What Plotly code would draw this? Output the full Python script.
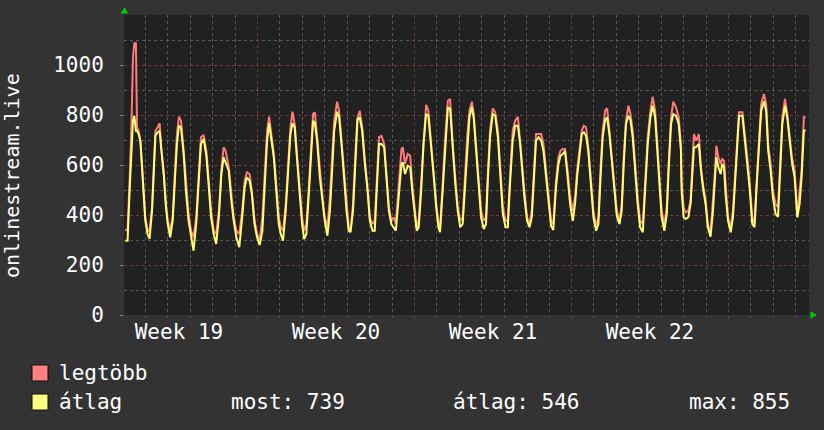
import plotly.graph_objects as go

# time in days from first midnight gridline
days = [-0.89, -0.79, -0.70, -0.62, -0.55, -0.49, -0.42, -0.37, -0.30, -0.22, -0.15, -0.07,
        0.00, 0.10, 0.19, 0.30, 0.37, 0.45, 0.55, 0.64, 0.71, 0.82, 0.92,
        1.00, 1.11, 1.22, 1.31, 1.41, 1.50, 1.59, 1.71, 1.81, 1.93,
        2.04, 2.15, 2.27, 2.38, 2.48, 2.60, 2.72, 2.82, 2.93,
        3.05, 3.16, 3.28, 3.39, 3.49, 3.58, 3.72, 3.82, 3.94,
        4.06, 4.19, 4.32, 4.43, 4.53, 4.65, 4.75, 4.87, 4.98,
        5.10, 5.22, 5.33, 5.43, 5.52, 5.62, 5.73, 5.85, 5.95,
        6.04, 6.14, 6.26, 6.37, 6.47, 6.56, 6.66, 6.77, 6.89, 6.99,
        7.08, 7.18, 7.29, 7.38, 7.48, 7.56, 7.66, 7.78, 7.90,
        8.00, 8.12, 8.23, 8.33, 8.42, 8.55, 8.64, 8.76, 8.86, 8.97,
        9.07, 9.15, 9.26, 9.38, 9.46, 9.56, 9.67, 9.79, 9.91,
        10.01, 10.13, 10.23, 10.33, 10.42, 10.53, 10.65, 10.75, 10.86, 10.97,
        11.08, 11.17, 11.27, 11.34, 11.42, 11.48, 11.58, 11.70, 11.81, 11.90,
        12.00, 12.10, 12.19, 12.30, 12.40, 12.52, 12.62, 12.74, 12.85, 12.97,
        13.07, 13.14, 13.26, 13.37, 13.49, 13.59, 13.71, 13.81, 13.93,
        14.04, 14.15, 14.26, 14.35, 14.45, 14.56, 14.64, 14.75, 14.85, 14.97,
        15.09, 15.19, 15.27, 15.37, 15.49, 15.60, 15.72, 15.82, 15.94,
        16.06, 16.16, 16.26, 16.38, 16.49, 16.61, 16.71, 16.80, 16.90,
        17.02, 17.13, 17.23, 17.32, 17.42, 17.54, 17.65, 17.75, 17.87, 17.99,
        18.09, 18.19, 18.31, 18.42, 18.51, 18.61, 18.71, 18.83, 18.94,
        19.06, 19.16, 19.25, 19.35, 19.46, 19.55, 19.65, 19.75, 19.87, 19.98,
        20.10, 20.20, 20.29, 20.39, 20.50, 20.59, 20.69, 20.79, 20.91,
        21.02, 21.14, 21.24, 21.33, 21.43, 21.54, 21.63, 21.73, 21.83, 21.95,
        22.06, 22.18, 22.29, 22.40, 22.52, 22.62, 22.73, 22.81, 22.92,
        23.02, 23.14, 23.25, 23.33, 23.44, 23.54, 23.66, 23.78, 23.88, 23.91,
        24.00, 24.09, 24.21, 24.31, 24.39, 24.46, 24.56, 24.68, 24.76, 24.86, 24.98,
        25.08, 25.20, 25.31, 25.40, 25.46, 25.55, 25.65, 25.72, 25.80, 25.87, 25.98,
        26.10, 26.20, 26.29, 26.39, 26.47, 26.62, 26.72, 26.84, 26.94,
        27.06, 27.16, 27.25, 27.36, 27.46, 27.58, 27.68, 27.77, 27.88, 27.98,
        28.10, 28.21, 28.29, 28.40, 28.52, 28.62, 28.73, 28.84, 28.95,
        29.07, 29.17, 29.26, 29.36, 29.44]

legtobb = [337, 345, 537, 751, 1031, 1087, 1087, 751, 737, 697, 604, 470,
           390, 337, 337, 431, 604, 737, 751, 767, 671, 577, 444,
           377, 337, 390, 551, 724, 793, 777, 657, 524, 404,
           337, 311, 390, 577, 711, 720, 657, 551, 417,
           337, 324, 417, 577, 671, 657, 591, 484, 391,
           337, 324, 417, 537, 571, 564, 497, 377, 324,
           300, 391, 577, 737, 793, 724, 644, 511, 391,
           351, 337, 444, 604, 751, 813, 764, 631, 497, 391,
           337, 364, 511, 657, 804, 811, 711, 577, 471,
           391, 351, 471, 631, 777, 853, 817, 684, 564, 444,
           351, 337, 444, 671, 791, 817, 751, 617, 511,
           391, 364, 377, 577, 711, 716, 684, 564, 431, 377,
           391, 364, 471, 551, 664, 671, 604, 644, 637, 524,
           431, 351, 377, 537, 711, 841, 817, 684, 577, 444,
           364, 351, 524, 711, 857, 864, 671, 564, 431,
           377, 391, 564, 711, 817, 853, 804, 671, 551, 417,
           377, 391, 564, 737, 827, 811, 737, 577, 431,
           377, 377, 551, 737, 777, 793, 697, 591, 497,
           391, 364, 417, 564, 724, 724, 724, 684, 577, 457,
           377, 364, 537, 631, 657, 664, 664, 577, 471,
           417, 471, 577, 657, 737, 757, 751, 671, 524, 417,
           351, 391, 577, 737, 817, 827, 737, 631, 511,
           417, 377, 444, 631, 777, 837, 804, 737, 604, 471,
           377, 364, 537, 711, 817, 873, 817, 697, 551,
           417, 364, 431, 604, 791, 853, 831, 791, 684, 537,
           431, 411, 417, 457, 577, 724, 697, 724, 604, 524, 457,
           364, 324, 444, 577, 677, 631, 604, 624, 617, 511, 391,
           351, 417, 551, 697, 811, 811, 737, 631, 537,
           391, 364, 537, 697, 844, 884, 844, 684, 604, 497,
           444, 431, 577, 791, 864, 804, 711, 624, 577,
           391, 497, 577, 791, 791]

atlag = [297, 297, 497, 657, 777, 797, 737, 737, 724, 697, 590, 457,
         377, 324, 304, 417, 577, 717, 731, 737, 664, 564, 431,
         364, 311, 377, 524, 684, 757, 751, 644, 497, 377,
         324, 257, 364, 551, 684, 704, 637, 524, 391,
         324, 284, 391, 564, 631, 611, 577, 471, 377,
         311, 271, 391, 511, 551, 537, 484, 364, 311,
         280, 337, 511, 697, 767, 697, 631, 484, 364,
         324, 297, 417, 577, 724, 767, 751, 617, 471, 364,
         304, 324, 484, 631, 777, 767, 697, 551, 444,
         377, 317, 417, 577, 737, 813, 791, 671, 537, 417,
         337, 331, 417, 631, 780, 791, 737, 604, 497,
         377, 337, 337, 551, 684, 684, 671, 551, 417, 364,
         351, 337, 444, 524, 604, 611, 564, 597, 591, 497,
         417, 337, 351, 497, 684, 804, 797, 657, 564, 431,
         351, 331, 497, 684, 831, 824, 657, 537, 417,
         351, 364, 537, 684, 791, 831, 791, 657, 524, 391,
         344, 364, 537, 711, 804, 797, 711, 551, 404,
         351, 351, 524, 697, 757, 757, 684, 577, 471,
         377, 351, 391, 537, 697, 711, 697, 657, 551, 431,
         357, 340, 511, 604, 637, 644, 657, 551, 444,
         377, 444, 551, 631, 724, 731, 717, 657, 497, 391,
         337, 364, 537, 711, 780, 790, 724, 617, 484,
         397, 364, 417, 604, 764, 797, 780, 711, 577, 444,
         351, 331, 511, 684, 791, 837, 791, 684, 524,
         391, 337, 404, 577, 764, 804, 797, 764, 657, 497,
         391, 384, 391, 444, 551, 671, 671, 684, 591, 511, 444,
         351, 313, 417, 551, 631, 591, 564, 604, 591, 484, 377,
         331, 391, 524, 684, 797, 797, 711, 604, 511,
         364, 351, 511, 671, 817, 855, 817, 657, 577, 471,
         404, 393, 551, 764, 837, 791, 697, 604, 551,
         391, 444, 551, 737, 739]

week_labels = ["Week 19", "Week 20", "Week 21", "Week 22"]
week_centers = [1.5, 8.5, 15.5, 22.5]
week_starts = [5, 12, 19, 26]
y_ticks = [0, 200, 400, 600, 800, 1000]
y_minor = [100, 300, 500, 700, 900, 1100]

stat_most = 739
stat_atlag = 546
stat_max = 855

FONT = "DejaVu Sans Mono"
RED = "#ff7a7a"
YEL = "#ffff70"
MAJOR_GRID = "#7a3838"
MINOR_GRID = "#585858"

fig = go.Figure()
fig.add_trace(go.Scatter(x=days, y=legtobb, mode="lines", name="legtöbb",
                         line=dict(color=RED, width=2), hoverinfo="skip"))
fig.add_trace(go.Scatter(x=days, y=atlag, mode="lines", name="átlag",
                         line=dict(color=YEL, width=2), hoverinfo="skip"))
# carrier for the label axis
fig.add_trace(go.Scatter(x=[week_centers[0]], y=[None], xaxis="x2", mode="lines",
                         showlegend=False, hoverinfo="skip"))

xr = [-0.95, 29.59]
fig.update_layout(
    width=824, height=430,
    margin=dict(l=124, r=15, t=15, b=115),
    paper_bgcolor="#333333", plot_bgcolor="#212121",
    showlegend=False,
    font=dict(family=FONT, size=21, color="white"),
    xaxis=dict(range=xr, tickmode="array", tickvals=week_starts, showticklabels=False,
               showgrid=True, gridcolor=MAJOR_GRID, griddash="dot", gridwidth=1,
               ticks="outside", ticklen=3, tickcolor=MAJOR_GRID,
               minor=dict(tickmode="linear", tick0=0, dtick=1, showgrid=True,
                          gridcolor=MINOR_GRID, griddash="dot", ticks="outside",
                          ticklen=2, tickcolor=MINOR_GRID),
               zeroline=False, showline=False, fixedrange=True),
    xaxis2=dict(range=xr, overlaying="x", side="bottom", anchor="y",
                tickmode="array", tickvals=week_centers, ticktext=week_labels,
                showgrid=False, ticks="", zeroline=False, showline=False,
                tickfont=dict(family=FONT, size=21, color="white"),
                ticklabelstandoff=2),
    yaxis=dict(range=[0, 1200], tickmode="array", tickvals=y_ticks,
               showgrid=True, gridcolor=MAJOR_GRID, griddash="dot", gridwidth=1,
               ticks="outside", ticklen=3, tickcolor="#888888",
               minor=dict(tickmode="array", tickvals=y_minor, showgrid=True,
                          gridcolor=MINOR_GRID, griddash="dot", ticks=""),
               tickfont=dict(family=FONT, size=21, color="white"),
               ticklabelstandoff=12, zeroline=False, showline=False),
)

def px_x(p):
    return (p - 124) / 685.0

def px_y(p):
    return (315 - p) / 300.0

# y axis title
fig.add_annotation(text="onlinestream.live", textangle=-90, xref="paper", yref="paper",
                   x=px_x(12), y=px_y(176), xanchor="center", yanchor="middle",
                   showarrow=False, font=dict(family=FONT, size=20, color="white"))

# legend boxes
for (top, col) in [(365, "#ff8080"), (394, "#ffff80")]:
    fig.add_shape(type="rect", xref="paper", yref="paper",
                  x0=px_x(32), x1=px_x(48), y0=px_y(top + 16), y1=px_y(top),
                  fillcolor=col, line=dict(color="#111111", width=1))

legend_items = [("legtöbb", 58, 373), ("átlag", 58, 402),
                (f"most: {stat_most}", 230, 402),
                (f"átlag: {stat_atlag}", 452, 402),
                (f"max: {stat_max}", 688, 402)]
for txt, lx, ly in legend_items:
    fig.add_annotation(text=txt, xref="paper", yref="paper", x=px_x(lx), y=px_y(ly),
                       xanchor="left", yanchor="middle", showarrow=False, borderpad=0,
                       font=dict(family=FONT, size=21, color="white"))

# green axis arrows
fig.add_shape(type="path", xref="paper", yref="paper",
              path=f"M {px_x(121.5)} {px_y(13)} L {px_x(124.5)} {px_y(8)} L {px_x(127.5)} {px_y(13)} Z",
              fillcolor="#00cc00", line=dict(color="#00cc00", width=1))
fig.add_shape(type="path", xref="paper", yref="paper",
              path=f"M {px_x(811)} {px_y(312)} L {px_x(816)} {px_y(315)} L {px_x(811)} {px_y(318)} Z",
              fillcolor="#00cc00", line=dict(color="#00cc00", width=1))

fig.write_html("out.html")
